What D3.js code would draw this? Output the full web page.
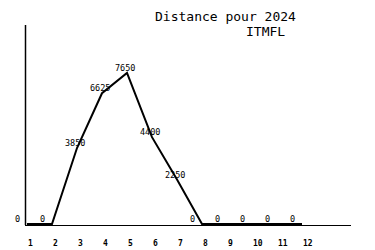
<!DOCTYPE html>
<html>
<head>
<meta charset="utf-8">
<script src="https://cdn.jsdelivr.net/npm/d3@7"></script>
<style>
  body { margin: 0; background: #fff; }
  text { font-family: "DejaVu Sans Mono", monospace; fill: #000; }
</style>
</head>
<body>
<svg id="chart" width="375" height="250"></svg>
<script>
const months = [1, 2, 3, 4, 5, 6, 7, 8, 9, 10, 11, 12];
const distances = [0, 0, 3850, 6625, 7650, 4400, 2250, 0, 0, 0, 0, 0];
const title = 'Distance pour 2024';
const subtitle = 'ITMFL';

const svg = d3.select('#chart');

const x = d3.scaleLinear().domain([1, 12]).range([27, 302]);
const y = d3.scaleLinear().domain([0, 7650]).range([224, 73]);

// axes
svg.append('line')
  .attr('x1', 25.5).attr('x2', 25.5)
  .attr('y1', 25).attr('y2', 225)
  .attr('stroke', '#000').attr('stroke-width', 1.5);
svg.append('line')
  .attr('x1', 25).attr('x2', 351)
  .attr('y1', 225.5).attr('y2', 225.5)
  .attr('stroke', '#000').attr('stroke-width', 1);

// month labels
svg.selectAll('.tick')
  .data(months)
  .enter()
  .append('text')
  .attr('x', d => x(d) + 1)
  .attr('y', 246)
  .attr('font-size', 8)
  .attr('font-weight', 'bold')
  .text(d => d);

// the line
const line = d3.line()
  .x((d, i) => x(months[i]))
  .y(d => y(d));

svg.append('path')
  .datum(distances)
  .attr('d', line)
  .attr('fill', 'none')
  .attr('stroke', '#000')
  .attr('stroke-width', 2);

// value labels
svg.selectAll('.val')
  .data(distances)
  .enter()
  .append('text')
  .attr('x', (d, i) => x(months[i]) - 12)
  .attr('y', d => y(d) - 2)
  .attr('font-size', 8.5)
  .text(d => d);

svg.append('text')
  .attr('x', 155).attr('y', 21)
  .attr('font-size', 13)
  .text(title);
svg.append('text')
  .attr('x', 246).attr('y', 36)
  .attr('font-size', 13)
  .text(subtitle);
</script>
</body>
</html>
